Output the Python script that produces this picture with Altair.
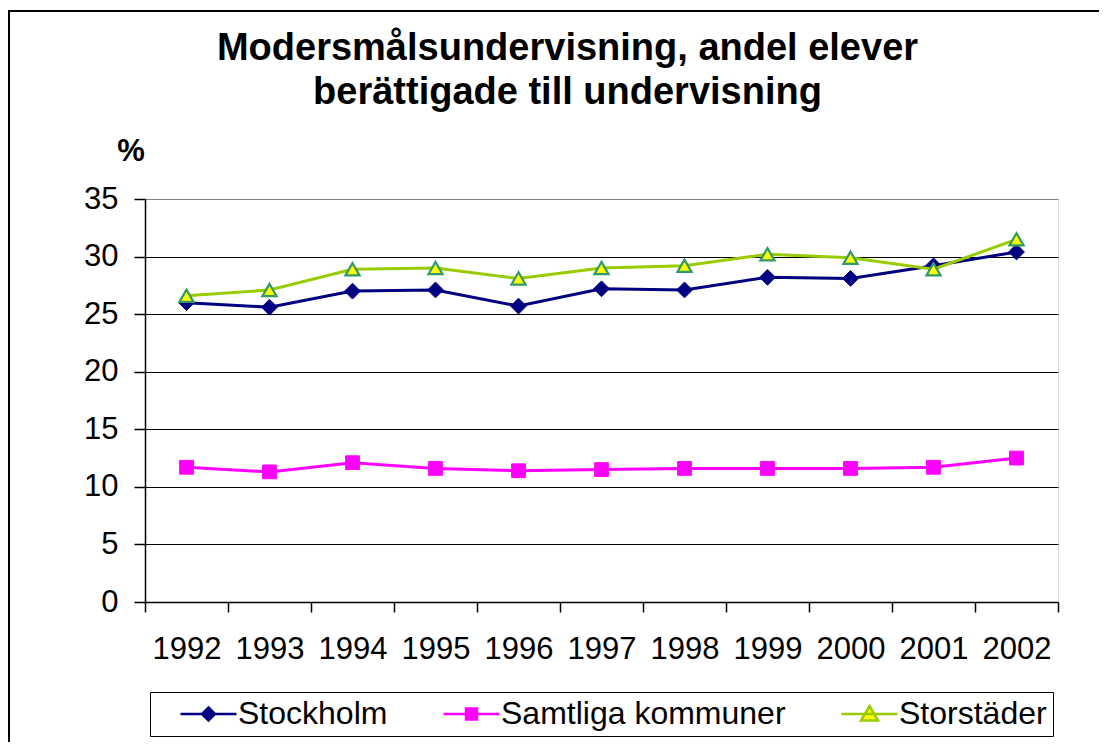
import altair as alt
import pandas as pd

years = ["1992", "1993", "1994", "1995", "1996", "1997", "1998", "1999", "2000", "2001", "2002"]
series_names = ["Stockholm", "Samtliga kommuner", "Storstäder"]
stockholm = [26.0, 25.6, 27.0, 27.1, 25.7, 27.2, 27.1, 28.2, 28.1, 29.2, 30.4]
samtliga = [11.7, 11.3, 12.1, 11.6, 11.4, 11.5, 11.6, 11.6, 11.6, 11.7, 12.5]
storstader = [26.6, 27.1, 28.9, 29.0, 28.1, 29.0, 29.2, 30.2, 29.9, 28.9, 31.5]
y_ticks = [0, 5, 10, 15, 20, 25, 30, 35]

rows = []
for name, vals in zip(series_names, [stockholm, samtliga, storstader]):
    for yr, v in zip(years, vals):
        rows.append({"year": yr, "series": name, "value": v})
df = pd.DataFrame(rows)

FONT = "Arial, Liberation Sans, sans-serif"
W, H = 913, 403

x_enc = alt.X(
    "year:O",
    scale=alt.Scale(type="band", paddingInner=0, paddingOuter=0),
    axis=alt.Axis(
        title=None, labelAngle=0, tickBand="extent", labelFontSize=31,
        labelColor="black", labelPadding=22, tickSize=10, tickColor="black",
        tickWidth=1.5, domainColor="black", domainWidth=1.5, grid=False,
        labelFont=FONT,
    ),
)
y_enc = alt.Y(
    "value:Q",
    scale=alt.Scale(domain=[0, 35], nice=False, zero=True),
    axis=alt.Axis(
        values=y_ticks, title="%", titleAngle=0, titleX=-14.5, titleY=-39,
        titleAlign="center", titleBaseline="alphabetic", titleFontSize=31,
        titleFontWeight="bold", titleColor="black", titleFont=FONT,
        labelFontSize=31, labelColor="black", labelPadding=16, labelFont=FONT,
        tickSize=11, tickColor="black", tickWidth=1.5, domainColor="black",
        domainWidth=1.5, grid=True, gridWidth=1,
        gridColor={"condition": {"test": "datum.value == 35", "value": "#808080"}, "value": "black"},
    ),
)

base = alt.Chart(df).encode(x=x_enc, y=y_enc)

styles = [
    ("Stockholm", "#000080", dict(shape="diamond", fill="#000080", stroke="#000080", strokeWidth=1, size=250)),
    ("Samtliga kommuner", "#FF00FF", dict(shape="square", fill="#FF00FF", stroke="#FF00FF", strokeWidth=1, size=190)),
    ("Storstäder", "#99CC00", dict(shape="triangle-up", fill="#FFFF00", stroke="#339966", strokeWidth=2.2, size=200)),
]

frame_src = alt.Chart(pd.DataFrame({"a": [0]}))
frame_top = frame_src.mark_rule(color="black", strokeWidth=2).encode(
    x=alt.value(-137), x2=alt.value(1200), y=alt.value(-188))
frame_left = frame_src.mark_rule(color="black", strokeWidth=2).encode(
    x=alt.value(-136), y=alt.value(-189), y2=alt.value(700))

layers = [frame_top, frame_left]
for name, color, pt in styles:
    f = base.transform_filter(alt.datum.series == name)
    layers.append(f.mark_line(color=color, strokeWidth=3))
    layers.append(f.mark_point(filled=True, opacity=1, **pt))

legend_paths = [
    "M0.85,0 L6.45,0 M3.65,-0.65 L4.3,0 L3.65,0.65 L3.0,0 Z",
    "M0.85,0 L6.45,0 M3.1,-0.55 L4.2,-0.55 L4.2,0.55 L3.1,0.55 Z",
    "M0.85,0 L6.45,0 M3.65,-0.8 L4.5,0.65 L2.8,0.65 Z",
]
leg = dict(
    orient="none", legendX=5, legendY=493, direction="horizontal", columns=3,
    title=None, strokeColor="black", fillColor="white", padding=6,
    labelFontSize=32, labelColor="black", labelFont=FONT, labelOffset=50,
    labelLimit=500, columnPadding=31, symbolSize=400, symbolStrokeWidth=2.5,
    symbolOpacity=1,
)
legend_layer = base.mark_point(opacity=0, size=400).encode(
    shape=alt.Shape("series:N", scale=alt.Scale(domain=series_names, range=legend_paths), legend=alt.Legend(**leg)),
    fill=alt.Fill("series:N", scale=alt.Scale(domain=series_names, range=["#000080", "#FF00FF", "#FFFF00"]), legend=alt.Legend(**leg)),
    stroke=alt.Stroke("series:N", scale=alt.Scale(domain=series_names, range=["#000080", "#FF00FF", "#99CC00"]), legend=alt.Legend(**leg)),
)
layers.append(legend_layer)

chart = alt.layer(*layers).properties(
    width=W, height=H,
    title=alt.Title(
        ["Modersmålsundervisning, andel elever", "berättigade till undervisning"],
        fontSize=38, fontWeight="bold", font=FONT, color="black",
        anchor="middle", frame="group", dx=-34, dy=103, offset=0, lineHeight=44,
    ),
    padding={"left": 137, "top": 191, "right": 41, "bottom": 140},
    autosize=alt.AutoSizeParams(type="none"),
).configure_view(stroke="#808080", strokeWidth=2).configure(background="white")

chart.save("out.html", embed_options={"renderer": "svg", "actions": False})
